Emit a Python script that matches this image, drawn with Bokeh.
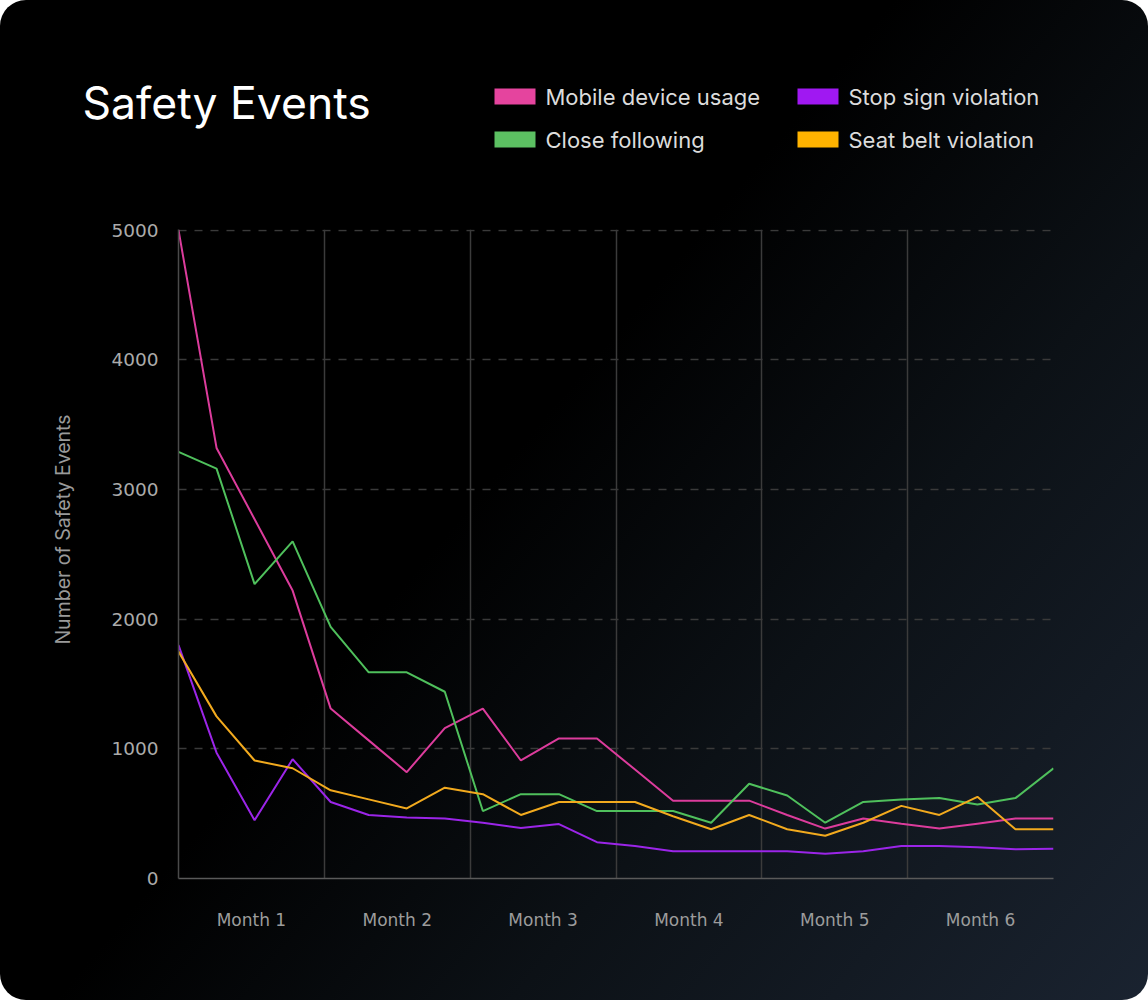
import math
from bokeh.plotting import figure
from bokeh.layouts import column, row
from bokeh.models import FixedTicker, Range1d, CustomJSTickFormatter
from bokeh.core.properties import value
from bokeh.embed import file_html
from bokeh.resources import INLINE

# ---- data -------------------------------------------------------------
month_labels = ["Month 1", "Month 2", "Month 3", "Month 4", "Month 5", "Month 6"]
y_ticks = [0, 1000, 2000, 3000, 4000, 5000]

series_names = ["Mobile device usage", "Stop sign violation",
                "Close following", "Seat belt violation"]

mobile_device = [5000, 3320, 2770, 2220, 1310, 1065, 820, 1160, 1310, 910, 1080, 1080,
                 840, 600, 600, 600, 490, 385, 462, 423, 385, 423, 462, 462]
stop_sign = [1800, 970, 450, 920, 590, 490, 470, 462, 430, 390, 420, 280,
             250, 210, 210, 210, 210, 190, 210, 250, 250, 240, 225, 230]
close_following = [3290, 3160, 2270, 2600, 1940, 1590, 1590, 1440, 520, 650, 650, 520,
                   520, 520, 430, 730, 640, 430, 590, 610, 620, 570, 620, 850]
seat_belt = [1750, 1250, 910, 850, 680, 610, 540, 700, 650, 490, 590, 590,
             590, 480, 380, 490, 380, 330, 430, 560, 490, 630, 380, 380]

series_values = [mobile_device, stop_sign, close_following, seat_belt]
line_colors = ["#dc3c9c", "#9b25e8", "#4fc05c", "#f2aa1e"]
swatch_colors = ["#e5449e", "#a018f2", "#5cc062", "#ffb300"]

W, H = 1148, 1000
HEADER_H = 209
SIDE_W = 100


def blank(width, height):
    """A borderless canvas addressed in pixels (y grows downwards)."""
    f = figure(width=width, height=height, output_backend="svg", toolbar_location=None,
               x_range=Range1d(0, width), y_range=Range1d(height, 0),
               x_axis_location=None, y_axis_location=None, min_border=0)
    f.frame_align = False
    f.background_fill_alpha = 0
    f.border_fill_alpha = 0
    f.outline_line_color = None
    f.grid.visible = False
    return f


# ---- header: title and two-column legend --------------------------------
header = blank(W, HEADER_H)
header.text(x=[82], y=[102], text=["Safety Events"], text_font=value("Inter"),
            text_font_size="44.5px", text_color="#ffffff", text_baseline="alphabetic")

col_x = [494, 797]
row_y = [96, 139]
sw_left = [col_x[i % 2] for i in range(len(series_names))]
sw_mid = [row_y[i // 2] for i in range(len(series_names))]
header.quad(left=sw_left, right=[v + 41 for v in sw_left],
            top=[v - 8 for v in sw_mid], bottom=[v + 8 for v in sw_mid],
            fill_color=swatch_colors, line_color=None)
header.text(x=[v + 51 for v in sw_left], y=sw_mid, text=series_names,
            text_font=value("Inter"), text_font_size="22px", text_color="#dcdcdc",
            text_baseline="middle")

# ---- side strip: vertical axis title ----------------------------------
side = blank(SIDE_W, H - HEADER_H)
side.text(x=[62], y=[529 - HEADER_H], text=["Number of Safety Events"],
          angle=math.pi / 2, text_font=value("Inter"), text_font_size="19.5px",
          text_color="#9a9a9a", text_align="center", text_baseline="middle")

# ---- main chart -------------------------------------------------------
n = len(mobile_device)
x = list(range(n))
span = n - 1
n_months = len(month_labels)
month_bounds = [span * k / n_months for k in range(n_months + 1)]
month_centers = [span * (2 * k + 1) / (2 * n_months) for k in range(n_months)]

p = figure(width=W - SIDE_W, height=H - HEADER_H, output_backend="svg",
           toolbar_location=None,
           x_range=Range1d(0, span), y_range=Range1d(0, 5004),
           min_border_left=178 - SIDE_W, min_border_right=95,
           min_border_top=229 - HEADER_H, min_border_bottom=122)
p.frame_align = False
p.background_fill_alpha = 0
p.border_fill_alpha = 0
p.outline_line_color = None

# grids
p.xgrid.ticker = FixedTicker(ticks=month_bounds)
p.xgrid.grid_line_color = "#3b3b3b"
p.xgrid.grid_line_width = 1.5
p.ygrid.ticker = FixedTicker(ticks=y_ticks)
p.ygrid.grid_line_color = "#3a3a3a"
p.ygrid.grid_line_width = 1.5
p.ygrid.grid_line_dash = "8 8"

# y axis
p.yaxis.ticker = FixedTicker(ticks=y_ticks)
p.yaxis.axis_line_color = "#4a4a4a"
p.yaxis.axis_line_width = 1.5
p.yaxis.major_tick_line_color = None
p.yaxis.minor_tick_line_color = None
p.yaxis.major_label_standoff = 14
p.yaxis.major_label_text_font = "DejaVu Sans"
p.yaxis.major_label_text_font_size = "18.5px"
p.yaxis.major_label_text_color = "#ababab"

# x axis: month names centred in each month band
p.xaxis.ticker = FixedTicker(ticks=month_centers)
p.xaxis.formatter = CustomJSTickFormatter(args=dict(labels=month_labels),
                                          code="return labels[index];")
p.xaxis.axis_line_color = "#5a5a5a"
p.xaxis.axis_line_width = 1.5
p.xaxis.major_tick_line_color = None
p.xaxis.minor_tick_line_color = None
p.xaxis.major_label_standoff = 25
p.xaxis.major_label_text_font = "DejaVu Sans"
p.xaxis.major_label_text_font_size = "17px"
p.xaxis.major_label_text_color = "#9c9c9c"

# series lines
for vals, color in zip(series_values, line_colors):
    p.line(x, vals, line_color=color, line_width=2)

page = column(header, row(side, p, spacing=0), spacing=0)
page.styles = {
    "background": "linear-gradient(130deg, #000000 0%, #000000 45%, #0c1116 68%, #1a2330 100%)",
    "border-radius": "26px",
    "overflow": "hidden",
}

open("out.html", "w").write(file_html(page, INLINE))
